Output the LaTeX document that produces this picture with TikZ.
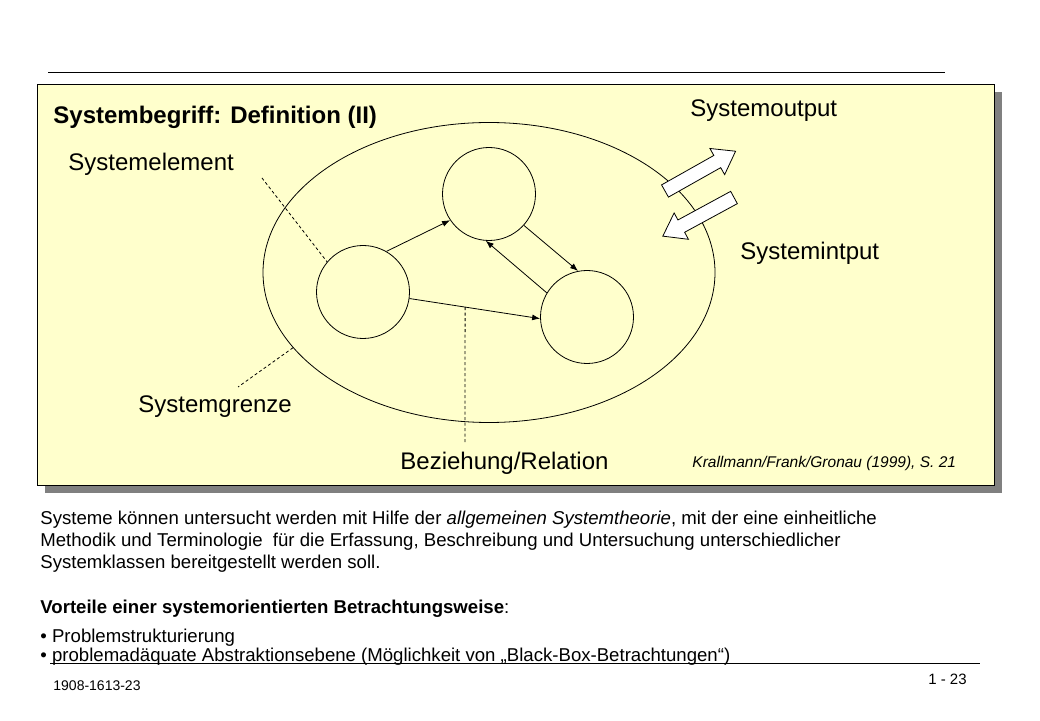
\documentclass[tikz,border=0pt]{standalone}
\usepackage{fontspec}
\setmainfont{Liberation Sans}
\usetikzlibrary{arrows.meta,shapes.geometric}
\definecolor{panelyellow}{RGB}{255,255,204}
\definecolor{shadowgray}{RGB}{128,128,128}
\tikzset{
  heading/.style={font=\fontsize{24}{28}\selectfont\bfseries, inner sep=0, anchor=base west},
  term/.style={font=\fontsize{24}{28}\selectfont, inner sep=0, anchor=base west},
  srcnote/.style={font=\fontsize{15.5}{18}\selectfont\itshape, inner sep=0, anchor=base west},
  bodytext/.style={font=\fontsize{18.6}{22}\selectfont, inner sep=0, anchor=base west},
  foottext/.style={font=\fontsize{14}{16}\selectfont, inner sep=0, anchor=base west},
  element/.style={circle, draw, minimum size=93pt, inner sep=0},
  boundary/.style={ellipse, draw, minimum width=452pt, minimum height=300pt, inner sep=0},
  hint/.style={dash pattern=on 3pt off 2.5pt},
  flowarrow/.pic={\draw[fill=white] (0,-7) -- (60,-7) -- (60,-15) -- (81,0) -- (60,15) -- (60,7) -- (0,7) -- cycle;}
}
\begin{document}
\begin{tikzpicture}[x=1pt, y=1pt, line width=0.8pt, >={Latex[length=8pt,width=6pt]}]
\useasboundingbox (0,0) rectangle (1040,720);
\draw (48,648) -- (945,648);
% panel
\fill [shadowgray] (45,227) rectangle (1002,627.5);
\draw [fill=panelyellow] (37,235) rectangle (994,635.5);
\node [heading] (title) at (53,596.5) {Systembegriff: Definition (II)};
% system
\node [boundary] (grenze) at (489,447.5) {};
\node [element] (sysL) at (363,428) {};
\node [element] (sysT) at (489,526) {};
\node [element] (sysR) at (587,403) {};
\draw [->] (sysL.60) -- (sysT.214);
\draw [->] (sysT.-42) -- (sysR.101);
\draw [->] (sysR.149) -- (sysT.266);
\draw [->] (sysL.-8) -- coordinate [pos=0.426] (rel) (sysR.182);
\pic (outarrow) [rotate=29.4] at (665,529) {flowarrow};
\pic (inarrow) [rotate=208.5] at (734,522.5) {flowarrow};
% labels
\coordinate (elemtip) at (262,542);
\coordinate (grenzetip) at (238,333);
\coordinate (reltip) at (465,277);
\draw [hint] (elemtip) -- (sysL.140);
\draw [hint] (grenze.201) -- (grenzetip);
\draw [hint] (rel) -- (reltip);
\node [term] (elemlabel) at (68,549.5) {Systemelement};
\node [term] (outlabel) at (690,603) {Systemoutput};
\node [term] (inlabel) at (740,460) {Systemintput};
\node [term] (grenzelabel) at (138,307) {Systemgrenze};
\node [term] (rellabel) at (400,250) {Beziehung/Relation};
\node [srcnote] (source) at (692,252.5) {Krallmann/Frank/Gronau (1999), S. 21};
% text below
\node [bodytext] (para1) at (40,195.5) {Systeme können untersucht werden mit Hilfe der \textit{allgemeinen Systemtheorie}, mit der eine einheitliche};
\node [bodytext] (para2) at (40,173.5) {Methodik und Terminologie\ \ für die Erfassung, Beschreibung und Untersuchung unterschiedlicher};
\node [bodytext] (para3) at (40,151.5) {Systemklassen bereitgestellt werden soll.};
\node [bodytext] (vorteile) at (40,106.5) {\textbf{Vorteile einer systemorientierten Betrachtungsweise}:};
\node [bodytext] (bullet1) at (40,77.5) {• Problemstrukturierung};
\node [bodytext] (bullet2) at (40,59) {• problemadäquate Abstraktionsebene (Möglichkeit von „Black-Box-Betrachtungen“)};
\draw (50,56.5) -- (980,56.5);
\node [foottext] (docid) at (53,30) {1908-1613-23};
\node [foottext, font=\fontsize{15}{17}\selectfont, anchor=base east] (pageno) at (967,36) {1 - 23};
\end{tikzpicture}
\end{document}
